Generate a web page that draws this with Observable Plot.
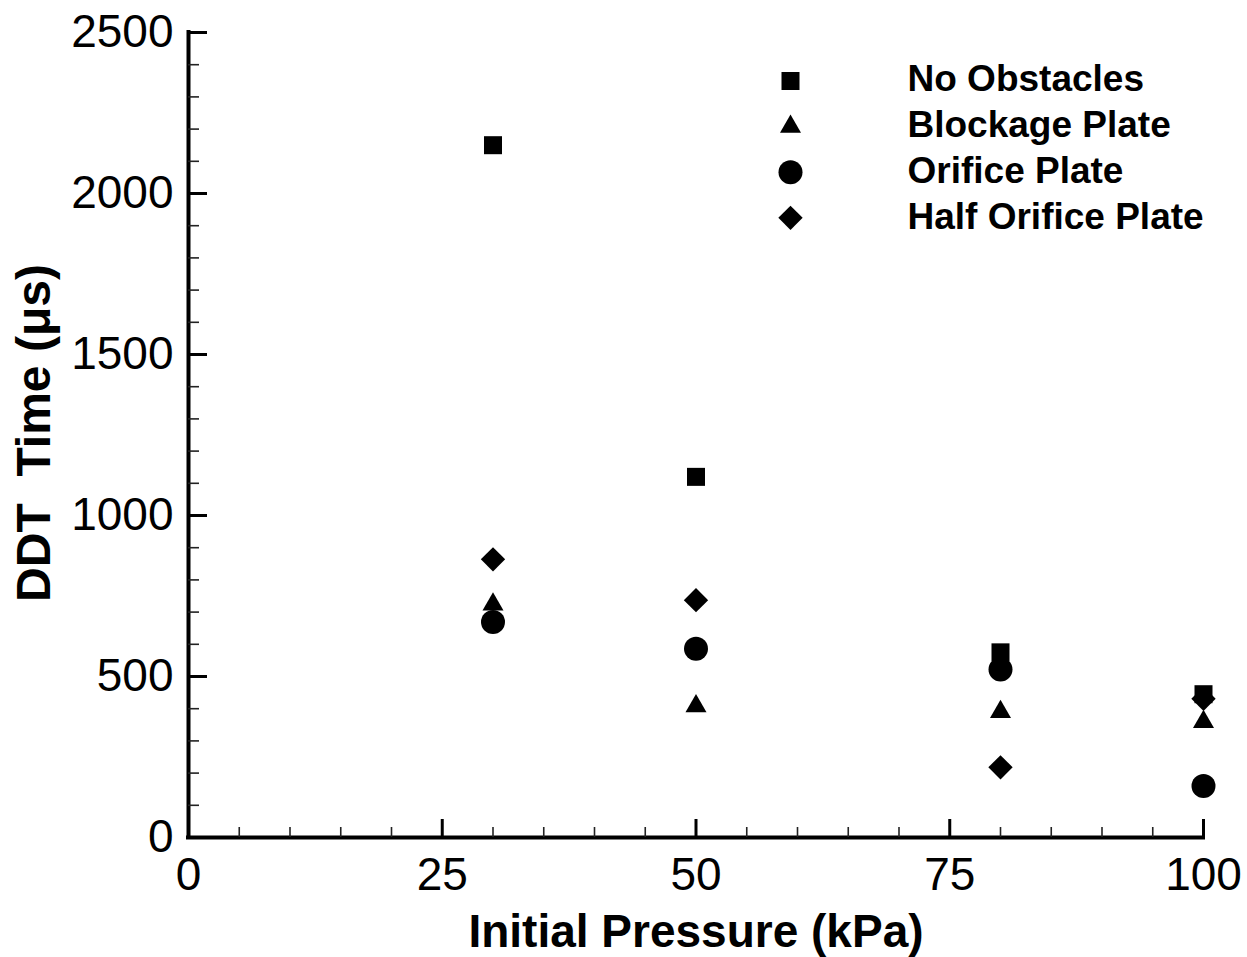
<!DOCTYPE html>
<html><head><meta charset="utf-8">
<script src="https://cdn.jsdelivr.net/npm/d3@7"></script>
<script src="https://cdn.jsdelivr.net/npm/@observablehq/plot@0.6"></script>
<style>html,body{margin:0;padding:0;background:#fff;overflow:hidden}#chart svg{display:block}</style>
</head><body><div id="chart"></div>
<script>
// ---- data ----
const pressures = [30, 50, 80, 100];
const noObstacles = [2150, 1120, 575, 445];
const blockagePlate = [724, 408, 390, 359];
const orificePlate = [669, 586, 522, 160];
const halfOrificePlate = [864, 737, 218, 431];
const seriesNames = ["No Obstacles", "Blockage Plate", "Orifice Plate", "Half Orifice Plate"];
const xTickLabels = [0, 25, 50, 75, 100];
const yTickLabels = [0, 500, 1000, 1500, 2000, 2500];
const xTitle = "Initial Pressure (kPa)";
const yTitle = "DDT\u00a0\u00a0Time (\u03bcs)";

// ---- styles ----
const seriesValues = [noObstacles, blockagePlate, orificePlate, halfOrificePlate];
const symbols = [d3.symbolSquare, d3.symbolTriangle, d3.symbolCircle, d3.symbolDiamond2];
const radii = [10.16, 7.8, 12, 10.96];

const W = 1247, H = 957, mL = 188, mR = 44, mT = 32, mB = 120;
const xDomain = [0, 100], yDomain = [0, 2500];
const pxPerX = (W - mL - mR) / (xDomain[1] - xDomain[0]);
const pxPerY = (H - mT - mB) / (yDomain[1] - yDomain[0]);
const xMinor = d3.range(5, 100, 5).filter(d => d % 25 !== 0);
const yMinor = d3.range(100, 2500, 100).filter(d => d % 500 !== 0);

const rows = seriesValues.map((vals, i) =>
  pressures.map((p, j) => ({pressure: p, time: vals[j], series: seriesNames[i]})));

const font = "'Liberation Sans', Arial, Helvetica, sans-serif";
const marks = [];

// axis lines
marks.push(Plot.ruleY([0], {x1: xDomain[0], x2: xDomain[1], stroke: "black", strokeWidth: 4, strokeLinecap: "square"}));
marks.push(Plot.ruleX([0], {y1: yDomain[0], y2: yDomain[1], stroke: "black", strokeWidth: 4, strokeLinecap: "square"}));
// ticks (inward)
marks.push(Plot.ruleX(xTickLabels, {x: d => d, y1: 0, y2: 18 / pxPerY, stroke: "black", strokeWidth: 3}));
marks.push(Plot.ruleX(xMinor, {x: d => d, y1: 0, y2: 10 / pxPerY, stroke: "#222", strokeWidth: 1.6}));
marks.push(Plot.ruleY(yTickLabels, {y: d => d, x1: 0, x2: 19 / pxPerX, stroke: "black", strokeWidth: 3}));
marks.push(Plot.ruleY(yMinor, {y: d => d, x1: 0, x2: 11 / pxPerX, stroke: "#222", strokeWidth: 1.6}));
// tick labels
marks.push(Plot.text(xTickLabels, {x: d => d, y: 0, dy: 38, text: d => String(d), lineAnchor: "middle", fontSize: 46, fill: "black"}));
marks.push(Plot.text(yTickLabels, {x: 0, y: d => d, dx: -15, text: d => String(d), textAnchor: "end", lineAnchor: "middle", fontSize: 46, fill: "black"}));
// axis titles
marks.push(Plot.text([xTitle], {frameAnchor: "bottom", dy: 95, textAnchor: "middle", lineAnchor: "middle", fontSize: 46, fontWeight: "bold", fill: "black"}));
marks.push(Plot.text([yTitle], {frameAnchor: "left", rotate: -90, dx: -154, dy: -2, textAnchor: "middle", lineAnchor: "middle", fontSize: 48, fontWeight: "bold", fill: "black"}));

// data points
rows.forEach((data, i) => {
  marks.push(Plot.dot(data, {x: "pressure", y: "time", symbol: symbols[i], r: radii[i], fill: "black", stroke: "none"}));
});

// legend
seriesNames.forEach((name, i) => {
  marks.push(Plot.dot([name], {frameAnchor: "top-left", dx: 602, dy: 48.5 + 45.6 * i, symbol: symbols[i], r: radii[i], fill: "black", stroke: "none"}));
  marks.push(Plot.text([name], {frameAnchor: "top-left", dx: 719, dy: 47 + 46 * i, text: d => d, textAnchor: "start", lineAnchor: "middle", fontSize: 37, fontWeight: "bold", fill: "black"}));
});

const chart = Plot.plot({
  width: W, height: H,
  marginLeft: mL, marginRight: mR, marginTop: mT, marginBottom: mB,
  x: {domain: xDomain, axis: null},
  y: {domain: yDomain, axis: null},
  style: {fontFamily: font, background: "white", color: "black", overflow: "visible"},
  marks
});
document.getElementById("chart").appendChild(chart);
</script>
</body></html>
